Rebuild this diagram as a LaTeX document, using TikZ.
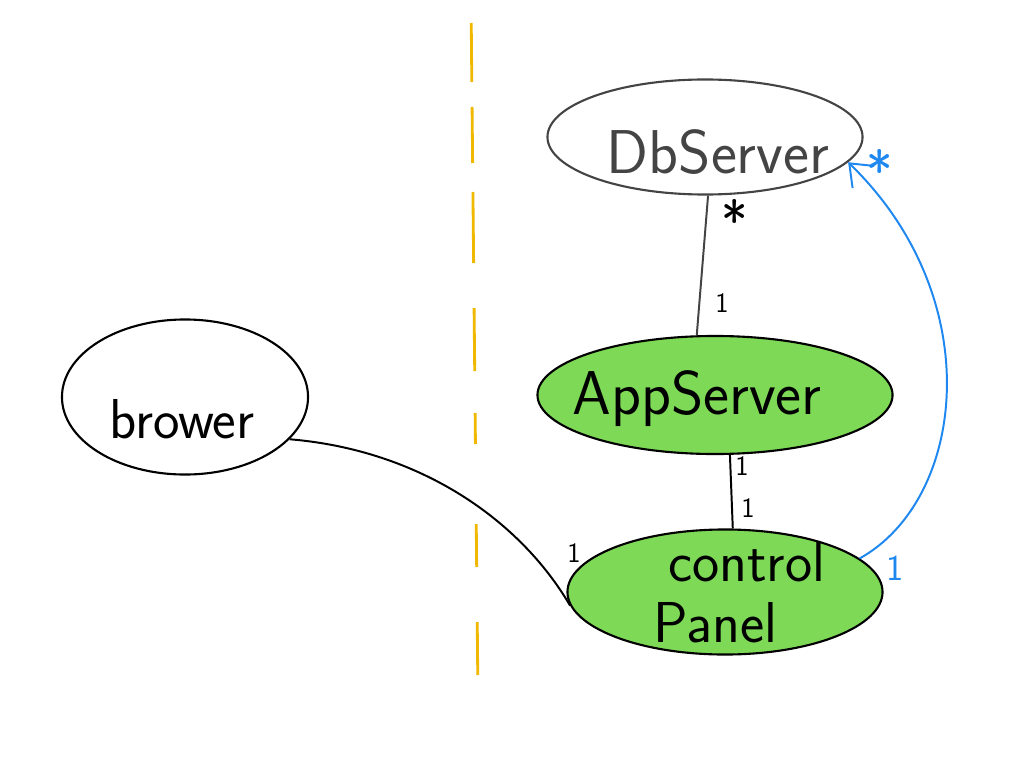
\documentclass[tikz,border=0pt]{standalone}
\usepackage{tikz}
\usetikzlibrary{calc}
\usetikzlibrary{shapes}
\usetikzlibrary{arrows.meta}
\definecolor{dashorange}{HTML}{F0B800}
\definecolor{appgreen}{HTML}{7ED957}
\definecolor{linkblue}{HTML}{1E88F0}
\definecolor{dbgray}{HTML}{444444}
\newcommand{\multlabel}[5]{\node[mult,text=#4] (#1) at ( #2 , #3 ) {#5};}
\tikzset{
  blob/.style={shape=ellipse, draw=black, line width=1.5pt, inner sep=0pt},
  greenblob/.style={blob, fill=appgreen},
  handtext/.style={font=\sffamily\fontsize{44}{46}\selectfont, align=center},
  mult/.style={font=\sffamily\fontsize{20}{22}\selectfont, inner sep=0pt},
  bigmult/.style={font=\sffamily\fontsize{40}{40}\selectfont},
  sepline/.style={dashorange, line width=2pt},
  link/.style={line width=1.4pt}
}

\begin{document}
\begin{tikzpicture}[x=0.025cm, y=-0.025cm]
        \useasboundingbox (0,0) rectangle (1024,768);

        % separator
        \foreach \a/\b in {23/82,107/163,192/263,308/371,413/444,524/567,622/675}
            \draw[sepline] ({471+\a/100},\a) -- ({471+\b/100},\b);

        % servers
        \node[blob, draw=dbgray, minimum width=7.875cm, minimum height=2.875cm,
              label={[handtext, text=dbgray, xshift=0.325cm, yshift=-0.375cm]center:DbServer}] (db) at (705,137) {};
        \node[greenblob, minimum width=8.875cm, minimum height=2.95cm,
              label={[handtext, xshift=-0.45cm, yshift=-0.1cm]center:AppServer}] (app) at (715,395) {};
        \node[greenblob, minimum width=7.875cm, minimum height=3.125cm,
              label={[handtext, font=\sffamily\fontsize{41}{43}\selectfont, xshift=-0.25cm, yshift=0cm]center:\hspace*{1.1em}control\\Panel}] (panel) at (725,592) {};
        % client
        \node[blob, minimum width=6.15cm, minimum height=3.875cm,
              label={[handtext, font=\sffamily\fontsize{40}{46}\selectfont, xshift=-0.075cm, yshift=-0.55cm]center:brower}] (brower) at (185,397) {};

        % links
        \draw[link, draw=dbgray] (db.-87) -- (app.107);
        \draw[link] (app.-76) -- (panel.83);
        \draw[link] (brower.-22) .. controls (420,450) and (520,520) .. (panel.-175);
        \draw[link, draw=linkblue, -{Straight Barb[length=14pt,width=22pt]}]
            (panel.14) .. controls (965,500) and (990,300) .. (db.-10);

        % multiplicities
        \node[mult, bigmult] (dbstar) at (735,220) {*};
        \multlabel{appone}{722}{303}{black}{1}
        \multlabel{apptwo}{742}{466}{black}{1}
        \multlabel{panelone}{748}{508}{black}{1}
        \multlabel{browone}{574}{553}{black}{1}
        \node[mult, font=\sffamily\fontsize{26}{26}\selectfont, text=linkblue] (blueone) at (895,568) {1};
        \node[mult, bigmult, text=linkblue] (bluestar) at (880,170) {*};
\end{tikzpicture}
\end{document}
